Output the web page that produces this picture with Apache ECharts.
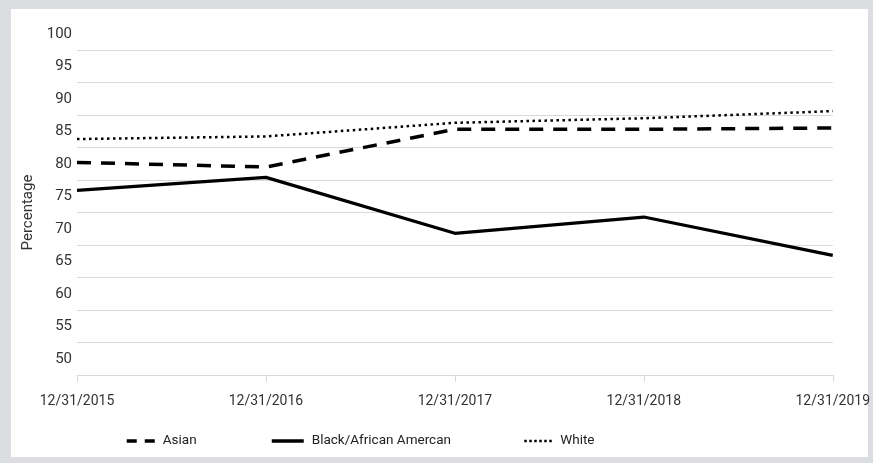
<!DOCTYPE html>
<html>
<head>
<meta charset="utf-8">
<script src="https://cdn.jsdelivr.net/npm/echarts@6/dist/echarts.min.js"></script>
<style>
    body { margin: 0; background: #dcdde0; }
    #panel { position: absolute; left: 11px; top: 9px; width: 857px; height: 448px; background: #fff; }
    #chart { position: absolute; left: 0; top: 0; width: 873px; height: 463px; }
</style>
</head>
<body>
<div id="panel"></div>
<div id="chart"></div>
<script>
// categories + values
const dates = ['12/31/2015', '12/31/2016', '12/31/2017', '12/31/2018', '12/31/2019'];
const asian = [82.7, 82.0, 87.8, 87.8, 88.0];
const black = [78.4, 80.4, 71.8, 74.3, 68.4];
const white = [86.3, 86.7, 88.8, 89.5, 90.6];
const yTicks = [50, 55, 60, 65, 70, 75, 80, 85, 90, 95, 100];

const numFont = 'Roboto, sans-serif';

let myChart = echarts.init(document.getElementById('chart'));

// one legend per item so each can sit where the original put it
function legendFor(name, left, w, lineStyle) {
    return {
        data: [name],
        left: left,
        top: 429,
        itemWidth: w,
        itemHeight: 14,
        itemStyle: {opacity: 0},
        lineStyle: lineStyle,
        textStyle: {color: '#222', fontSize: 13.5, fontFamily: numFont, padding: [0, 0, 0, 3]}
    };
}

let option = {
    animation: false,
    grid: {left: 77, right: 31, top: 50, bottom: 88},
    legend: [
        legendFor('Asian', 120, 28, {color: '#000', width: 3.5, type: [10, 8]}),
        legendFor('Black/African Amercan', 265, 32, {color: '#000', width: 3.5, type: 'solid'}),
        legendFor('White', 518, 28, {color: '#000', width: 2.5, type: [2.5, 2.5]})
    ],
    xAxis: {
        type: 'category',
        data: dates,
        boundaryGap: false,
        axisLine: {lineStyle: {color: '#d9d9d9', width: 1}},
        axisTick: {show: true, length: 7, lineStyle: {color: '#d9d9d9'}},
        axisLabel: {color: '#333', fontSize: 14, fontFamily: numFont, margin: 19}
    },
    yAxis: {
        type: 'value',
        min: yTicks[0],
        max: yTicks[yTicks.length - 1],
        interval: 5,
        name: 'Percentage',
        nameLocation: 'middle',
        nameGap: 41,
        nameTextStyle: {color: '#333', fontSize: 15, fontFamily: numFont},
        axisLine: {show: false},
        axisTick: {show: false},
        splitLine: {lineStyle: {color: '#d9d9d9', width: 1}},
        // labels in the original sit half a step above their gridlines
        axisLabel: {
            color: '#333', fontSize: 15, fontFamily: numFont, margin: 5,
            verticalAlign: 'bottom',
            lineHeight: 32,
            showMinLabel: true,
            showMaxLabel: true
        }
    },
    series: [
        {
            name: 'Asian',
            type: 'line',
            data: asian,
            symbol: 'none',
            lineStyle: {color: '#000', width: 3.5, type: [14, 10]},
            itemStyle: {color: '#000'}
        },
        {
            name: 'Black/African Amercan',
            type: 'line',
            data: black,
            symbol: 'none',
            lineStyle: {color: '#000', width: 3.2},
            itemStyle: {color: '#000'}
        },
        {
            name: 'White',
            type: 'line',
            data: white,
            symbol: 'none',
            lineStyle: {color: '#000', width: 2.5, type: [2.5, 3.5]},
            itemStyle: {color: '#000'}
        }
    ]
};
myChart.setOption(option);
</script>
</body>
</html>
